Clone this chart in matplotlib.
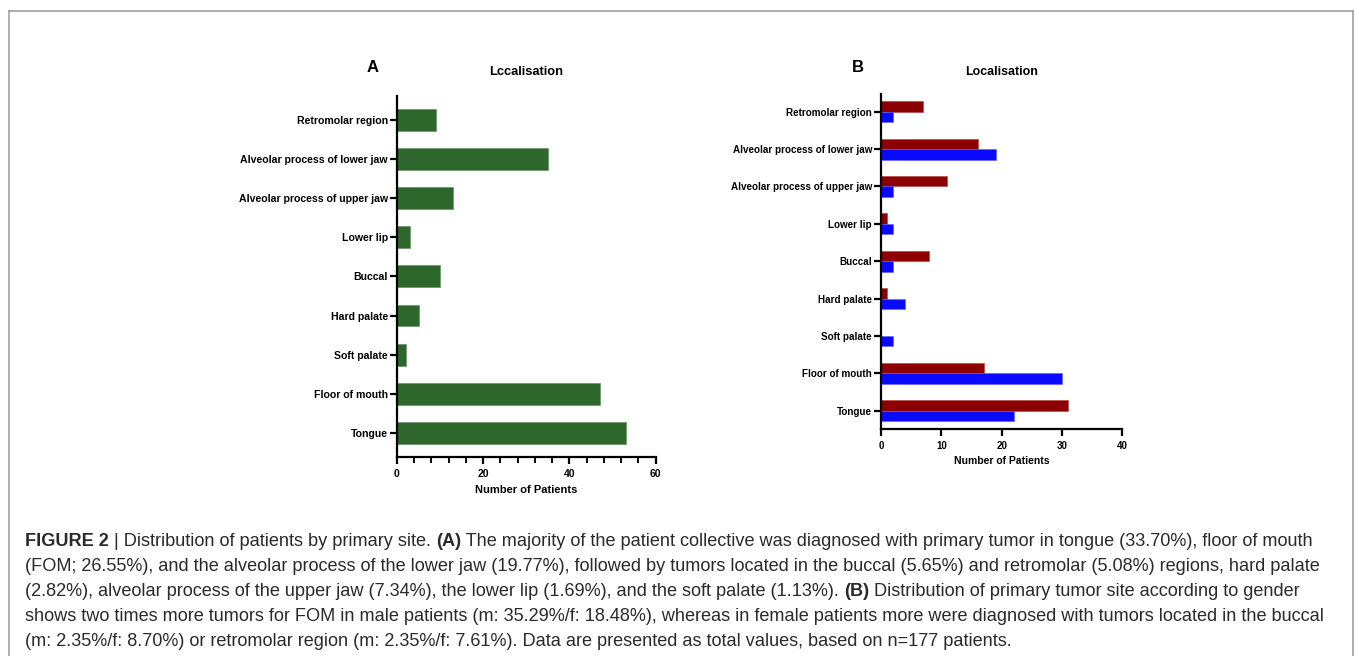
import numpy as np
import matplotlib
matplotlib.use("Agg")
import matplotlib.pyplot as plt
from matplotlib.ticker import MultipleLocator
from matplotlib.lines import Line2D

# =============================================================================
# Data
# =============================================================================
sites = ["Retromolar region", "Alveolar process of lower jaw", "Alveolar process of upper jaw",
         "Lower lip", "Buccal", "Hard palate", "Soft palate", "Floor of mouth", "Tongue"]
total_counts = [9, 35, 13, 3, 10, 5, 2, 47, 53]
female_counts = [7, 16, 11, 1, 8, 1, 0, 17, 31]
male_counts = [2, 19, 2, 2, 2, 4, 2, 30, 22]

caption_lines = [
    [("FIGURE 2", True), (" | Distribution of patients by primary site. ", False), ("(A)", True),
     (" The majority of the patient collective was diagnosed with primary tumor in tongue (33.70%), floor of mouth", False)],
    [("(FOM; 26.55%), and the alveolar process of the lower jaw (19.77%), followed by tumors located in the buccal "
      "(5.65%) and retromolar (5.08%) regions, hard palate", False)],
    [("(2.82%), alveolar process of the upper jaw (7.34%), the lower lip (1.69%), and the soft palate (1.13%). ", False),
     ("(B)", True), (" Distribution of primary tumor site according to gender", False)],
    [("shows two times more tumors for FOM in male patients (m: 35.29%/f: 18.48%), whereas in female patients more "
      "were diagnosed with tumors located in the buccal", False)],
    [("(m: 2.35%/f: 8.70%) or retromolar region (m: 2.35%/f: 7.61%). Data are presented as total values, "
      "based on n=177 patients.", False)],
]

GREEN = "#2e672b"
RED = "#8b0000"
BLUE = "#0a0aff"

W, H = 1355, 656
plt.rcParams['font.family'] = ['Liberation Sans', 'DejaVu Sans']
fig = plt.figure(figsize=(W / 100, H / 100), dpi=100)


def px_axes(left, top, right, bottom):
    return fig.add_axes([left / W, 1 - bottom / H, (right - left) / W, (bottom - top) / H])


def style_axes(ax, fs_tick, fs_ylab):
    for s in ("top", "right"):
        ax.spines[s].set_visible(False)
    for s in ("left", "bottom"):
        ax.spines[s].set_linewidth(1.6)
    ax.tick_params(axis="both", which="major", length=5, width=1.6, color="black")
    ax.tick_params(axis="x", labelsize=fs_tick)
    ax.tick_params(axis="y", labelsize=fs_ylab, pad=1.5)
    for lab in ax.get_xticklabels() + ax.get_yticklabels():
        lab.set_fontweight("bold")


# =============================================================================
# Panel A
# =============================================================================
axA = px_axes(397, 95.7, 655.7, 456.7)
pos = np.arange(len(sites))
axA.barh(pos, total_counts, height=0.56, color=GREEN, edgecolor="#6f9a6c", linewidth=0.6)
axA.set_yticks(pos)
axA.set_yticklabels(sites)
axA.set_ylim(len(sites) - 1 + 0.61, -0.62)
axA.set_xlim(0, 60)
axA.xaxis.set_major_locator(MultipleLocator(20))
axA.xaxis.set_minor_locator(MultipleLocator(4))
axA.tick_params(axis="x", which="minor", length=4, width=1.4)
style_axes(axA, 7.5, 7.6)
axA.set_xlabel("Number of Patients", fontsize=8, fontweight="bold", labelpad=5)
fig.text(526.5 / W, 1 - 72 / H, "Lccalisation", ha="center", va="center", fontsize=9.3, fontweight="bold")
fig.text(373 / W, 1 - 68 / H, "A", ha="center", va="center", fontsize=12, fontweight="bold")

# =============================================================================
# Panel B
# =============================================================================
axB = px_axes(881, 94.3, 1122.3, 429)
bh = 0.28
axB.barh(pos - bh / 2, female_counts, height=bh, color=RED, edgecolor="#b04040", linewidth=0.4)
axB.barh(pos + bh / 2, male_counts, height=bh, color=BLUE, edgecolor="#6060ff", linewidth=0.4)
axB.set_yticks(pos)
axB.set_yticklabels(sites)
axB.set_ylim(len(sites) - 1 + 0.49, -0.465)
axB.set_xlim(0, 40)
axB.xaxis.set_major_locator(MultipleLocator(10))
style_axes(axB, 7, 7.1)
axB.set_xlabel("Number of Patients", fontsize=7.5, fontweight="bold", labelpad=4)
fig.text(1001.5 / W, 1 - 71.7 / H, "Localisation", ha="center", va="center", fontsize=8.9, fontweight="bold")
fig.text(857.7 / W, 1 - 67.7 / H, "B", ha="center", va="center", fontsize=12, fontweight="bold")

# =============================================================================
# Frame and caption
# =============================================================================
frame_kw = dict(color="#a0a0a0", linewidth=1.2, transform=fig.transFigure)
fig.add_artist(Line2D([9 / W, 9 / W], [1 - 11 / H, 0], **frame_kw))
fig.add_artist(Line2D([9 / W, 1353 / W], [1 - 11 / H, 1 - 11 / H], **frame_kw))
fig.add_artist(Line2D([1353 / W, 1353 / W], [1 - 11 / H, 0], **frame_kw))

renderer = fig.canvas.get_renderer()
y0, dy = 541.7, 25.0
for i, line in enumerate(caption_lines):
    x = 25.0
    for txt, bold in line:
        t = fig.text(x / W, 1 - (y0 + i * dy) / H, txt, ha="left", va="center", fontsize=13.05,
                     color="#2a2a2a", fontweight="bold" if bold else "normal")
        x += t.get_window_extent(renderer).width

fig.savefig("out.png", dpi=100)
